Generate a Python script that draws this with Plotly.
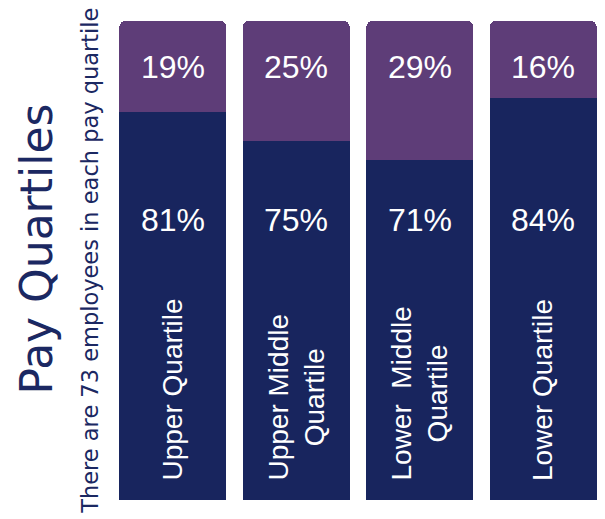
import plotly.graph_objects as go

categories = ["Upper Quartile", "Upper Middle Quartile", "Lower Middle Quartile", "Lower Quartile"]
cat_labels = ["Upper Quartile", "Upper Middle<br>Quartile", "Lower&nbsp; Middle<br>Quartile", "Lower Quartile"]
navy_values = [81, 75, 71, 84]
purple_values = [19, 25, 29, 16]
title_text = "Pay Quartiles"
subtitle_text = "There are 73 employees in each pay quartile"

NAVY = "#18255E"
PURPLE = "#5E3D78"
TEXT_NAVY = "#1B2862"
FONT = "Liberation Sans, Arial, sans-serif"

fig = go.Figure()
fig.add_trace(go.Bar(
    x=categories, y=navy_values, marker=dict(color=NAVY, line=dict(width=0)),
    hoverinfo="skip", showlegend=False,
))
fig.add_trace(go.Bar(
    x=categories, y=purple_values, marker=dict(color=PURPLE, line=dict(width=0)),
    hoverinfo="skip", showlegend=False,
))

annotations = []
for c, v in zip(categories, purple_values):
    annotations.append(dict(
        x=c, y=90.4, xref="x", yref="y", text=f"{v}%", showarrow=False,
        font=dict(family=FONT, size=32, color="white"),
        xanchor="center", yanchor="middle",
    ))
for c, v in zip(categories, navy_values):
    annotations.append(dict(
        x=c, y=58.4, xref="x", yref="y", text=f"{v}%", showarrow=False,
        font=dict(family=FONT, size=32, color="white"),
        xanchor="center", yanchor="middle",
    ))
for c, lab in zip(categories, cat_labels):
    annotations.append(dict(
        x=c, y=3.6, xref="x", yref="y", text=lab, showarrow=False,
        textangle=-90, align="center",
        font=dict(family=FONT, size=28, color="white"),
        xanchor="center", yanchor="bottom",
    ))
annotations.append(dict(
    x=-0.150, y=0.525, xref="paper", yref="paper", text=title_text, showarrow=False,
    textangle=-90, font=dict(family="DejaVu Sans", size=44, color=TEXT_NAVY),
    xanchor="center", yanchor="middle",
))
annotations.append(dict(
    x=-0.044, y=0.50, xref="paper", yref="paper", text=subtitle_text, showarrow=False,
    textangle=-90, font=dict(family="DejaVu Sans", size=22.5, color=TEXT_NAVY),
    xanchor="center", yanchor="middle",
))

# page body has an 8px default margin, so the figure is shrunk by 8px
fig.update_layout(
    width=597, height=511,
    margin=dict(l=103, r=0, t=13, b=19, pad=0),
    barmode="stack", bargap=0.135, barcornerradius=6,
    plot_bgcolor="white", paper_bgcolor="white",
    xaxis=dict(visible=False, range=[-0.5, 3.5]),
    yaxis=dict(visible=False, range=[0, 100]),
    annotations=annotations,
)

fig.write_html("out.html")
